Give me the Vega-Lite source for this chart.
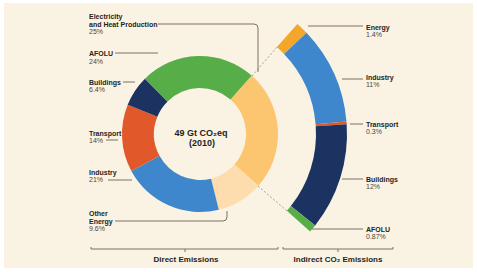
{
  "$schema": "https://vega.github.io/schema/vega-lite/v6.json",
  "width": 477,
  "height": 272,
  "autosize": {"type": "fit", "contains": "padding"},
  "padding": {"left": 4, "top": 3, "right": 4, "bottom": 4},
  "background": "#ffffff",
  "config": {
    "view": {"fill": "#faf3e3", "stroke": null},
    "font": "Liberation Sans, Arial, sans-serif"
  },
  "datasets": {
    "direct": [
      {"sector": "Electricity and Heat Production", "share": 0.25},
      {"sector": "Other Energy", "share": 0.096},
      {"sector": "Industry", "share": 0.21},
      {"sector": "Transport", "share": 0.14},
      {"sector": "Buildings", "share": 0.064},
      {"sector": "AFOLU", "share": 0.24}
    ],
    "indirect": [
      {"sector": "Energy", "share": 0.014},
      {"sector": "Industry", "share": 0.11},
      {"sector": "Transport", "share": 0.003},
      {"sector": "Buildings", "share": 0.12},
      {"sector": "AFOLU", "share": 0.0087}
    ],
    "directLayout": [
      {"sector": "Electricity and Heat Production", "title": "Electricity\nand Heat Production", "tx": -111, "ty": -118, "py": -102},
      {"sector": "AFOLU", "title": "AFOLU", "tx": -111, "ty": -81, "py": -72},
      {"sector": "Buildings", "title": "Buildings", "tx": -111, "ty": -52, "py": -44},
      {"sector": "Transport", "title": "Transport", "tx": -111, "ty": -1, "py": 7},
      {"sector": "Industry", "title": "Industry", "tx": -111, "ty": 38, "py": 46},
      {"sector": "Other Energy", "title": "Other\nEnergy", "tx": -111, "ty": 79, "py": 95}
    ],
    "indirectLayout": [
      {"sector": "Energy", "title": "Energy", "tx": 166, "ty": -107, "py": -99},
      {"sector": "Industry", "title": "Industry", "tx": 166, "ty": -57, "py": -49},
      {"sector": "Transport", "title": "Transport", "tx": 166, "ty": -10, "py": -2},
      {"sector": "Buildings", "title": "Buildings", "tx": 166, "ty": 45, "py": 53},
      {"sector": "AFOLU", "title": "AFOLU", "tx": 166, "ty": 95, "py": 103}
    ],
    "leaders": [
      {"id": "electricity", "x": -42, "y": -110},
      {"id": "electricity", "x": 54, "y": -110},
      {"id": "electricity", "x": 57, "y": -109},
      {"id": "electricity", "x": 58, "y": -106},
      {"id": "electricity", "x": 58, "y": -62},
      {"id": "afolu", "x": -85, "y": -81},
      {"id": "afolu", "x": -42, "y": -81},
      {"id": "buildings", "x": -77, "y": -52},
      {"id": "buildings", "x": -65, "y": -52},
      {"id": "transport", "x": -94, "y": 6},
      {"id": "transport", "x": -82, "y": 6},
      {"id": "industry", "x": -92, "y": 46},
      {"id": "industry", "x": -68, "y": 46},
      {"id": "other", "x": -85, "y": 87},
      {"id": "other", "x": 23, "y": 87},
      {"id": "other", "x": 26, "y": 86},
      {"id": "other", "x": 27, "y": 83},
      {"id": "other", "x": 27, "y": 77},
      {"id": "in-energy", "x": 108, "y": -108},
      {"id": "in-energy", "x": 163, "y": -108},
      {"id": "in-industry", "x": 142, "y": -55},
      {"id": "in-industry", "x": 163, "y": -55},
      {"id": "in-transport", "x": 150, "y": -10},
      {"id": "in-transport", "x": 163, "y": -10},
      {"id": "in-buildings", "x": 142, "y": 45},
      {"id": "in-buildings", "x": 163, "y": 45},
      {"id": "in-afolu", "x": 112, "y": 95},
      {"id": "in-afolu", "x": 163, "y": 95},
      {"id": "bracket-direct", "x": -109, "y": 113},
      {"id": "bracket-direct", "x": -109, "y": 115},
      {"id": "bracket-direct", "x": 78, "y": 115},
      {"id": "bracket-direct", "x": 78, "y": 113},
      {"id": "tick-direct", "x": -15, "y": 115},
      {"id": "tick-direct", "x": -15, "y": 118},
      {"id": "bracket-indirect", "x": 83, "y": 113},
      {"id": "bracket-indirect", "x": 83, "y": 115},
      {"id": "bracket-indirect", "x": 193, "y": 115},
      {"id": "bracket-indirect", "x": 193, "y": 113},
      {"id": "tick-indirect", "x": 138, "y": 115},
      {"id": "tick-indirect", "x": 138, "y": 118}
    ],
    "links": [
      {"id": "top", "x": 52, "y": -58},
      {"id": "top", "x": 77, "y": -87},
      {"id": "bottom", "x": 58, "y": 52},
      {"id": "bottom", "x": 87, "y": 77}
    ],
    "notes": [
      {"text": "49 Gt CO₂eq", "x": 1, "y": -1, "kind": "center"},
      {"text": "(2010)", "x": 2, "y": 9, "kind": "center"},
      {"text": "Direct Emissions", "x": -14, "y": 126, "kind": "bracket"},
      {"text": "Indirect CO₂ Emissions", "x": 138, "y": 126, "kind": "bracket"}
    ]
  },
  "resolve": {"scale": {"theta": "independent"}},
  "layer": [
    {
      "data": {"name": "direct"},
      "transform": [
        {"window": [{"op": "row_number", "as": "idx"}]},
        {"calculate": "0", "as": "cx"},
        {"calculate": "0", "as": "cy"}
      ],
      "mark": {"type": "arc", "radius": 78, "radius2": 46},
      "encoding": {
        "x": {"field": "cx", "type": "quantitative", "scale": {"domain": [-196, 273], "nice": false, "zero": false}, "axis": null},
        "y": {"field": "cy", "type": "quantitative", "scale": {"domain": [-131, 134], "nice": false, "zero": false, "reverse": true}, "axis": null},
        "theta": {"field": "share", "type": "quantitative", "stack": true, "scale": {"range": [0.7243, 7.0075]}},
        "order": {"field": "idx", "type": "quantitative"},
        "color": {
          "field": "sector", "type": "nominal", "legend": null,
          "scale": {
            "domain": ["Electricity and Heat Production", "Other Energy", "Industry", "Transport", "Buildings", "AFOLU", "Energy"],
            "range": ["#fcc56f", "#fddcae", "#3f87cc", "#e1592a", "#1c3362", "#57ad47", "#f4a62a"]
          }
        }
      }
    },
    {
      "data": {"name": "indirect"},
      "transform": [
        {"window": [{"op": "row_number", "as": "idx"}]},
        {"calculate": "0", "as": "cx"},
        {"calculate": "0", "as": "cy"}
      ],
      "mark": {"type": "arc", "radius": 147, "radius2": 116},
      "encoding": {
        "x": {"field": "cx", "type": "quantitative", "scale": {"domain": [-196, 273], "nice": false, "zero": false}, "axis": null},
        "y": {"field": "cy", "type": "quantitative", "scale": {"domain": [-131, 134], "nice": false, "zero": false, "reverse": true}, "axis": null},
        "theta": {"field": "share", "type": "quantitative", "stack": true, "scale": {"range": [0.7243, 2.2951]}},
        "order": {"field": "idx", "type": "quantitative"},
        "color": {
          "field": "sector", "type": "nominal", "legend": null,
          "scale": {
            "domain": ["Electricity and Heat Production", "Other Energy", "Industry", "Transport", "Buildings", "AFOLU", "Energy"],
            "range": ["#fcc56f", "#fddcae", "#3f87cc", "#e1592a", "#1c3362", "#57ad47", "#f4a62a"]
          }
        }
      }
    },
    {
      "data": {"name": "links"},
      "transform": [{"window": [{"op": "row_number", "as": "idx"}]}],
      "mark": {"type": "line", "stroke": "#8c8c8c", "strokeWidth": 0.8, "strokeDash": [2, 2]},
      "encoding": {
        "x": {"field": "x", "type": "quantitative", "scale": {"domain": [-196, 273], "nice": false, "zero": false}, "axis": null},
        "y": {"field": "y", "type": "quantitative", "scale": {"domain": [-131, 134], "nice": false, "zero": false, "reverse": true}, "axis": null},
        "detail": {"field": "id"},
        "order": {"field": "idx", "type": "quantitative"}
      }
    },
    {
      "data": {"name": "leaders"},
      "transform": [{"window": [{"op": "row_number", "as": "idx"}]}],
      "mark": {"type": "line", "stroke": "#7b7163", "strokeWidth": 1},
      "encoding": {
        "x": {"field": "x", "type": "quantitative", "scale": {"domain": [-196, 273], "nice": false, "zero": false}, "axis": null},
        "y": {"field": "y", "type": "quantitative", "scale": {"domain": [-131, 134], "nice": false, "zero": false, "reverse": true}, "axis": null},
        "detail": {"field": "id"},
        "order": {"field": "idx", "type": "quantitative"}
      }
    },
    {
      "data": {"name": "direct"},
      "transform": [
        {"lookup": "sector", "from": {"data": {"name": "directLayout"}, "key": "sector", "fields": ["title", "tx", "ty", "py"]}}
      ],
      "layer": [
        {
          "mark": {"type": "text", "align": "left", "baseline": "top", "dy": -3.3, "lineBreak": "\n", "lineHeight": 8, "fontSize": 7, "fontWeight": "bold", "color": "#241f1c"},
          "encoding": {
            "x": {"field": "tx", "type": "quantitative", "scale": {"domain": [-196, 273], "nice": false, "zero": false}, "axis": null},
            "y": {"field": "ty", "type": "quantitative", "scale": {"domain": [-131, 134], "nice": false, "zero": false, "reverse": true}, "axis": null},
            "text": {"field": "title"}
          }
        },
        {
          "mark": {"type": "text", "align": "left", "baseline": "middle", "fontSize": 7, "color": "#4d4640"},
          "encoding": {
            "x": {"field": "tx", "type": "quantitative", "scale": {"domain": [-196, 273], "nice": false, "zero": false}, "axis": null},
            "y": {"field": "py", "type": "quantitative", "scale": {"domain": [-131, 134], "nice": false, "zero": false, "reverse": true}, "axis": null},
            "text": {"field": "share", "type": "quantitative", "format": ".2~%"}
          }
        }
      ]
    },
    {
      "data": {"name": "indirect"},
      "transform": [
        {"lookup": "sector", "from": {"data": {"name": "indirectLayout"}, "key": "sector", "fields": ["title", "tx", "ty", "py"]}}
      ],
      "layer": [
        {
          "mark": {"type": "text", "align": "left", "baseline": "top", "dy": -3.3, "lineBreak": "\n", "lineHeight": 8, "fontSize": 7, "fontWeight": "bold", "color": "#241f1c"},
          "encoding": {
            "x": {"field": "tx", "type": "quantitative", "scale": {"domain": [-196, 273], "nice": false, "zero": false}, "axis": null},
            "y": {"field": "ty", "type": "quantitative", "scale": {"domain": [-131, 134], "nice": false, "zero": false, "reverse": true}, "axis": null},
            "text": {"field": "title"}
          }
        },
        {
          "mark": {"type": "text", "align": "left", "baseline": "middle", "fontSize": 7, "color": "#4d4640"},
          "encoding": {
            "x": {"field": "tx", "type": "quantitative", "scale": {"domain": [-196, 273], "nice": false, "zero": false}, "axis": null},
            "y": {"field": "py", "type": "quantitative", "scale": {"domain": [-131, 134], "nice": false, "zero": false, "reverse": true}, "axis": null},
            "text": {"field": "share", "type": "quantitative", "format": ".2~%"}
          }
        }
      ]
    },
    {
      "data": {"name": "notes"},
      "transform": [{"filter": "datum.kind === 'center'"}],
      "mark": {"type": "text", "align": "center", "baseline": "middle", "fontSize": 9, "fontWeight": "bold", "color": "#241f1c"},
      "encoding": {
        "x": {"field": "x", "type": "quantitative", "scale": {"domain": [-196, 273], "nice": false, "zero": false}, "axis": null},
        "y": {"field": "y", "type": "quantitative", "scale": {"domain": [-131, 134], "nice": false, "zero": false, "reverse": true}, "axis": null},
        "text": {"field": "text"}
      }
    },
    {
      "data": {"name": "notes"},
      "transform": [{"filter": "datum.kind === 'bracket'"}],
      "mark": {"type": "text", "align": "center", "baseline": "middle", "fontSize": 8, "fontWeight": "bold", "color": "#241f1c"},
      "encoding": {
        "x": {"field": "x", "type": "quantitative", "scale": {"domain": [-196, 273], "nice": false, "zero": false}, "axis": null},
        "y": {"field": "y", "type": "quantitative", "scale": {"domain": [-131, 134], "nice": false, "zero": false, "reverse": true}, "axis": null},
        "text": {"field": "text"}
      }
    }
  ]
}
